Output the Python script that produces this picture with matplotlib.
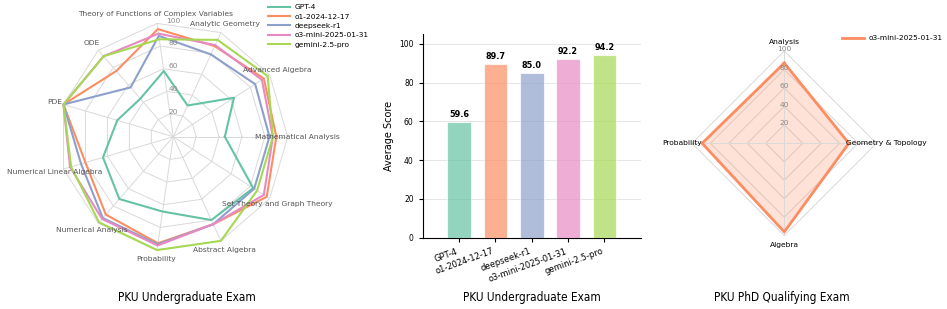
import numpy as np
import matplotlib
matplotlib.use('Agg')
import matplotlib.pyplot as plt

# --- donnees : examen de premier cycle (11 matieres)
categories = ['Mathematical Analysis', 'Advanced Algebra', 'Analytic Geometry',
              'Theory of Functions of Complex Variables', 'ODE', 'PDE',
              'Numerical Linear Algebra', 'Numerical Analysis', 'Probability',
              'Abstract Algebra', 'Set Theory and Graph Theory']
models = ['GPT-4', 'o1-2024-12-17', 'deepseek-r1', 'o3-mini-2025-01-31', 'gemini-2.5-pro']
gpt4 = [45, 63, 30, 58, 44, 51, 64, 72, 66, 80, 83]
o1 = [90, 94, 87, 95, 76, 100, 80, 90, 94, 84, 97]
deepseek = [84, 85, 79, 89, 57, 100, 84, 94, 95, 84, 84]
o3mini = [87, 92, 88, 91, 93, 100, 94, 95, 96, 84, 94]
gemini = [87, 98, 93, 86, 93, 100, 93, 99, 100, 100, 87]

# moyennes
avg_scores = [59.6, 89.7, 85.0, 92.2, 94.2]

# --- donnees : examen de qualification PhD
phd_categories = ['Analysis', 'Geometry & Topology', 'Algebra', 'Probability']
phd_o3mini = [87, 70, 96, 89]

colors = ['#66c2a5', '#fc8d62', '#8da0cb', '#e78ac3', '#a6d854']
grid_col = '#d9d9d9'
rticks = [20, 40, 60, 80, 100]


def grille_radar(ax, ang, r_lab, lab_col, r_off, rlab_ang, cats):
    # grille polygonale + etiquettes placees a la main
    closed = np.append(ang, ang[0])
    for r in rticks:
        ax.plot(closed, [r] * (len(ang) + 1), color=grid_col, lw=0.7,
                zorder=0, clip_on=False)
    ax.set_ylim(0, 100)
    ax.set_xticks(ang)
    ax.set_xticklabels([])
    ax.set_yticks(rticks)
    ax.set_yticklabels([])
    ax.yaxis.grid(False)
    ax.xaxis.grid(True, color=grid_col, lw=0.7)
    ax.spines['polar'].set_visible(False)
    for a, c in zip(ang, cats):
        ax.text(a, r_lab, c, ha='center', va='center', fontsize=5.4,
                color=lab_col, clip_on=False)
    for r in rticks:
        ax.text(rlab_ang, r + r_off, str(r), ha='center', va='center',
                fontsize=5.4, color='#888888', clip_on=False)


fig = plt.figure(figsize=(9.47, 3.09), dpi=100)

# radar gauche
ax1 = fig.add_axes([0.0621, 0.187, 0.2418, 0.741], projection='polar')
n = len(categories)
angles = np.linspace(0, 2 * np.pi, n, endpoint=False)
closed = np.append(angles, angles[0])
grille_radar(ax1, angles, 108.3, '#555555', 1.5, np.pi / 2, categories)
series = [gpt4, o1, deepseek, o3mini, gemini]
for name, vals, col in zip(models, series, colors):
    ax1.plot(closed, vals + vals[:1], color=col, lw=1.5, label=name, clip_on=False)
ax1.legend(loc='upper left', bbox_to_anchor=(268 / 947, 1 - 4 / 309),
           bbox_transform=fig.transFigure, frameon=False, fontsize=5.4,
           handlelength=2.9, handletextpad=0.7, labelspacing=0.42,
           borderaxespad=0, borderpad=0)

# barres
ax2 = fig.add_axes([0.4464, 0.2307, 0.2302, 0.6583])
x = np.arange(len(models))
ax2.bar(x, avg_scores, width=0.65, color=colors, alpha=0.7,
        edgecolor='white', linewidth=0.8, zorder=3)
for i, v in enumerate(avg_scores):
    ax2.text(i, v + 1.5, f'{v:.1f}', ha='center', va='bottom',
             fontsize=5.9, fontweight='bold')
ax2.set_xlim(-1, 5)
ax2.set_ylim(0, 105)
ax2.set_yticks([0, 20, 40, 60, 80, 100])
ax2.set_xticks(x)
ax2.set_xticklabels(models, rotation=20, ha='right', fontsize=6)
ax2.tick_params(axis='y', labelsize=5.5)
ax2.tick_params(length=3, width=0.8)
ax2.set_ylabel('Average Score', fontsize=7)
ax2.yaxis.grid(True, color='#e6e6e6', lw=0.7, zorder=0)
ax2.set_axisbelow(True)
ax2.spines['top'].set_visible(False)
ax2.spines['right'].set_visible(False)

# radar droit
ax3 = fig.add_axes([0.7307, 0.2375, 0.1949, 0.5974], projection='polar')
ax3.set_theta_offset(np.pi / 2)
ax3.set_theta_direction(-1)
m = len(phd_categories)
angles2 = np.linspace(0, 2 * np.pi, m, endpoint=False)
closed2 = np.append(angles2, angles2[0])
grille_radar(ax3, angles2, 110.3, 'black', 2, 0, phd_categories)
ax3.plot(closed2, phd_o3mini + phd_o3mini[:1], color='#fc8d62', lw=2,
         label='o3-mini-2025-01-31')
ax3.fill(closed2, phd_o3mini + phd_o3mini[:1], color='#fc8d62', alpha=0.25)
ax3.legend(loc='upper left', bbox_to_anchor=(842 / 947, 1 - 35 / 309),
           bbox_transform=fig.transFigure, frameon=False, fontsize=5.4,
           handlelength=2.9, handletextpad=0.7, borderaxespad=0, borderpad=0)

# legendes sous les panneaux
cap_font = ['Liberation Sans Narrow', 'DejaVu Sans']
for cx, txt in [(187, 'PKU Undergraduate Exam'), (532, 'PKU Undergraduate Exam'),
                (782, 'PKU PhD Qualifying Exam')]:
    fig.text(cx / 947, 12 / 309, txt, ha='center', va='center',
             fontsize=8.5, family=cap_font, fontstretch='condensed')

fig.savefig('out.png', dpi=100)
